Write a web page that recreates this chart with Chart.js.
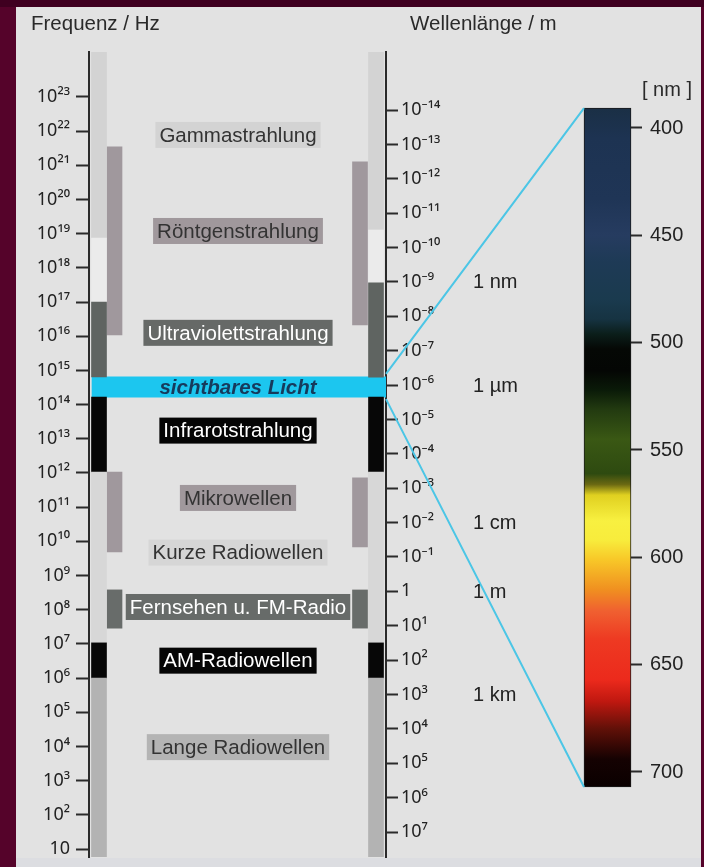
<!DOCTYPE html>
<html>
<head>
<meta charset="utf-8">
<script src="https://cdn.jsdelivr.net/npm/chart.js@4/dist/chart.umd.min.js"></script>
<style>
  html, body { margin: 0; padding: 0; background: #55032a; }
  canvas { display: block; }
</style>
</head>
<body>
<canvas id="c" width="704" height="867"></canvas>
<script>
// ================= DATA =================
// Left axis: frequency exponents (log10 Hz) and their tick labels
const freqExp = [1,2,3,4,5,6,7,8,9,10,11,12,13,14,15,16,17,18,19,20,21,22,23];
const freqTickLabels = ['10','10²','10³','10⁴','10⁵','10⁶','10⁷','10⁸','10⁹','10¹⁰','10¹¹','10¹²','10¹³','10¹⁴','10¹⁵','10¹⁶','10¹⁷','10¹⁸','10¹⁹','10²⁰','10²¹','10²²','10²³'];
// Right axis: wavelength exponents (log10 m) and tick labels
const waveExp = [-14,-13,-12,-11,-10,-9,-8,-7,-6,-5,-4,-3,-2,-1,0,1,2,3,4,5,6,7];
const waveTickLabels = ['10⁻¹⁴','10⁻¹³','10⁻¹²','10⁻¹¹','10⁻¹⁰','10⁻⁹','10⁻⁸','10⁻⁷','10⁻⁶','10⁻⁵','10⁻⁴','10⁻³','10⁻²','10⁻¹','1','10¹','10²','10³','10⁴','10⁵','10⁶','10⁷'];
// Spectrum axis (nm)
const nmTicks = [400,450,500,550,600,650,700];

// Region names and the frequency (log10 Hz) at which their label sits
const regionNames = ['Gammastrahlung','Röntgenstrahlung','Ultraviolettstrahlung','sichtbares Licht','Infrarotstrahlung','Mikrowellen','Kurze Radiowellen','Fernsehen u. FM-Radio','AM-Radiowellen','Lange Radiowellen'];
const regionLabelFreq = [21.89, 19.08, 16.10, 14.52, 13.24, 11.27, 9.67, 8.08, 6.51, 3.98];

// Frequency bands, outer column (log10 Hz)
const freqOuterKind = ['gamma','gap','uv','ir','radio','am','long'];
const freqOuterLo   = [18.87, 17.00, 14.81, 12.03,  7.03, 6.00, 0.77];
const freqOuterHi   = [24.32, 18.87, 17.00, 14.22, 12.03, 7.03, 6.00];
// Frequency bands, inner column (log10 Hz)
const freqInnerKind = ['xray','micro','tv'];
const freqInnerLo   = [16.04,  9.69, 7.46];
const freqInnerHi   = [21.54, 12.03, 8.58];
// Visible light band (log10 Hz)
const visibleFreq = [14.22, 14.81];

// Wavelength bands, outer column (log10 m)
const waveOuterKind = ['gamma','gap','uv','ir','radio','am','long'];
const waveOuterLo   = [-15.69, -10.51, -8.97, -5.65, -3.47, 1.50, 2.52];
const waveOuterHi   = [-10.51,  -8.97, -6.23, -3.47,  1.50, 2.52, 7.73];
// Wavelength bands, inner column (log10 m)
const waveInnerKind = ['xray','micro','tv'];
const waveInnerLo   = [-12.49, -3.30, -0.04];
const waveInnerHi   = [ -7.75, -1.29,  1.07];

// Wavelength unit markers
const unitLabels  = ['1 nm','1 µm','1 cm','1 m','1 km'];
const unitWaveExp = [-9, -6, -2, 0, 3];

// Visible spectrum (nm) and its colour stops
const spectrumRange = [390.7, 707];
const spectrumStopNm    = [390, 405, 433, 450, 462, 480, 489, 496, 503, 513, 522, 531, 545, 561, 566, 571, 583, 592, 601, 615, 625, 638, 657, 667, 680, 694, 707];
const spectrumStopColor = ['#1a2f45','#1d3352','#1f3556','#263c60','#1e3a56','#1a3a4e','#163342','#0b1e1a','#050805','#040604','#0a1a08','#223a10','#3a5814','#2e4a10','#6a6812','#e0d020','#f8f040','#f8ec3c','#f8c828','#f09020','#f06030','#ee3a22','#ec2a1c','#c01810','#601008','#150202','#0a0000'];

// ================= LAYOUT / STYLE =================
const L = {
  W: 704, H: 867,
  panel: { x: 16, y: 7, w: 685, h: 860 },
  area: { left: 89, right: 386, top: 52, bottom: 857 },
  col: { fOuter: 99, fInner: 114.5, wInner: 360, wOuter: 376, spectrum: 607.5, visible: 239 },
  colW: 15, spectrumW: 47, visibleW: 294,
  labelX: 238, unitX: 473, boxPadX: 4, boxH: 26,
  yRange: { fMin: 0.766, fMax: 24.316, wMin: -15.687, wMax: 7.727, nMin: 364.6, nMax: 739.6 }
};
const FONT = '"Liberation Sans", Arial, Helvetica, sans-serif';
const TICK_FONT = '"Noto Sans", "DejaVu Sans", sans-serif';
const KIND_COLOR = {
  gamma: '#d3d3d3', gap: '#ebebeb', uv: '#5f6461', ir: '#070707', radio: '#d7d7d7',
  am: '#070707', long: '#b3b3b3', xray: '#a0989d', micro: '#a0989d', tv: '#686c6a'
};
const LABEL_STYLE = [
  { bg: '#d3d3d3', fg: '#333' },
  { bg: '#a0989c', fg: '#333' },
  { bg: '#666967', fg: '#fff' },
  { bg: null,      fg: '#163a5c', bold: true, italic: true },
  { bg: '#050505', fg: '#fff' },
  { bg: '#a0989c', fg: '#333' },
  { bg: '#d6d6d6', fg: '#333' },
  { bg: '#676b69', fg: '#fff' },
  { bg: '#050505', fg: '#fff' },
  { bg: '#b4b4b4', fg: '#333' }
];
const AXIS_COLOR = '#2a2a2a';
const CYAN = '#1cc6ef';
const LINE_CYAN = '#4cc6e6';

Chart.defaults.font.family = FONT;
Chart.defaults.color = '#222';

function bandDataset(x, lo, hi, kinds, axis) {
  return {
    yAxisID: axis,
    data: lo.map((v, i) => ({ x: x, y: [v, hi[i]] })),
    backgroundColor: kinds.map(k => KIND_COLOR[k]),
    barThickness: L.colW,
    grouped: false,
    borderWidth: 0
  };
}

function setTicks(values) {
  return (scale) => { scale.ticks = values.map(v => ({ value: v })); };
}
function fixWidth(w) {
  return (scale) => { scale.width = w; scale.paddingTop = 0; scale.paddingBottom = 0; };
}

const decor = {
  id: 'decor',
  beforeDraw(chart) {
    const c = chart.ctx;
    c.save();
    c.fillStyle = '#55032a';
    c.fillRect(0, 0, L.W, L.H);
    c.fillStyle = '#3f0020';
    c.fillRect(0, 0, L.W, L.panel.y);
    c.fillStyle = '#e2e2e2';
    c.fillRect(L.panel.x, L.panel.y, L.panel.w, L.panel.h);
    c.fillStyle = '#dcdde1';
    c.fillRect(L.panel.x, 858, L.panel.w, L.H - 858);
    c.restore();
  },
  afterDatasetsDraw(chart) {
    const c = chart.ctx;
    const yF = chart.scales.yF, yW = chart.scales.yW, yN = chart.scales.yNm, x = chart.scales.x;
    c.save();
    // connection lines from visible band to spectrum bar
    const ax = chart.chartArea.right;
    const sx = x.getPixelForValue(L.col.spectrum) - L.spectrumW / 2;
    c.strokeStyle = LINE_CYAN;
    c.lineWidth = 2;
    c.beginPath();
    c.moveTo(ax, yF.getPixelForValue(visibleFreq[1]) - 3);
    c.lineTo(sx, yN.getPixelForValue(spectrumRange[0]));
    c.moveTo(ax, yF.getPixelForValue(visibleFreq[0]) + 2);
    c.lineTo(sx, yN.getPixelForValue(spectrumRange[1]));
    c.stroke();

    // region labels
    c.textBaseline = 'middle';
    c.textAlign = 'center';
    regionNames.forEach((name, i) => {
      const st = LABEL_STYLE[i];
      c.font = (st.italic ? 'italic ' : '') + (st.bold ? 'bold ' : '') + '20.5px ' + FONT;
      const y = yF.getPixelForValue(regionLabelFreq[i]);
      const w = c.measureText(name).width;
      if (st.bg) {
        c.fillStyle = st.bg;
        c.fillRect(L.labelX - w / 2 - L.boxPadX, y - L.boxH / 2, w + 2 * L.boxPadX, L.boxH);
      }
      c.fillStyle = st.fg;
      c.fillText(name, L.labelX, y + 1);
    });

    // unit labels on wavelength side
    c.textAlign = 'left';
    c.font = '20px ' + FONT;
    c.fillStyle = '#222';
    unitLabels.forEach((t, i) => {
      c.fillText(t, L.unitX, yW.getPixelForValue(unitWaveExp[i]) + 1);
    });

    // titles
    c.font = '20.5px ' + FONT;
    c.fillStyle = '#2a2a2a';
    c.fillText('Frequenz / Hz', 31, 24);
    c.fillText('Wellenlänge / m', 410, 24);
    c.font = '20px ' + FONT;
    c.fillText('[ nm ]', 642, 90);
    c.restore();
  }
};

const tickFont = { size: 18, family: TICK_FONT };

new Chart(document.getElementById('c'), {
  type: 'bar',
  data: {
    datasets: [
      bandDataset(L.col.fOuter, freqOuterLo, freqOuterHi, freqOuterKind, 'yF'),
      bandDataset(L.col.fInner, freqInnerLo, freqInnerHi, freqInnerKind, 'yF'),
      bandDataset(L.col.wInner, waveInnerLo, waveInnerHi, waveInnerKind, 'yW'),
      bandDataset(L.col.wOuter, waveOuterLo, waveOuterHi, waveOuterKind, 'yW'),
      {
        yAxisID: 'yF',
        data: [{ x: L.col.visible, y: visibleFreq }],
        backgroundColor: CYAN,
        barThickness: L.visibleW,
        grouped: false,
        borderWidth: 0
      },
      {
        yAxisID: 'yNm',
        data: [{ x: L.col.spectrum, y: spectrumRange }],
        barThickness: L.spectrumW,
        grouped: false,
        clip: false,
        borderWidth: 1,
        borderColor: '#1a1a1a',
        borderSkipped: false,
        backgroundColor: (ctx) => {
          const chart = ctx.chart;
          const s = chart.scales.yNm;
          if (!chart.chartArea || !s) return '#000';
          const y0 = s.getPixelForValue(spectrumRange[0]);
          const y1 = s.getPixelForValue(spectrumRange[1]);
          const g = chart.ctx.createLinearGradient(0, y0, 0, y1);
          spectrumStopNm.forEach((nm, i) => {
            let t = (nm - spectrumRange[0]) / (spectrumRange[1] - spectrumRange[0]);
            t = Math.min(1, Math.max(0, t));
            g.addColorStop(t, spectrumStopColor[i]);
          });
          return g;
        }
      }
    ]
  },
  options: {
    responsive: false,
    animation: false,
    events: [],
    devicePixelRatio: 1,
    layout: { padding: { top: L.area.top, bottom: L.H - L.area.bottom, left: 0, right: 0 } },
    plugins: { legend: { display: false }, tooltip: { enabled: false }, title: { display: false } },
    scales: {
      x: { type: 'linear', display: false, offset: false, min: L.area.left, max: L.area.right },
      yF: {
        type: 'linear', position: 'left',
        min: L.yRange.fMin, max: L.yRange.fMax,
        afterBuildTicks: setTicks(freqExp),
        afterFit: fixWidth(L.area.left),
        ticks: {
          autoSkip: false, padding: 6, font: tickFont, color: '#222',
          callback: (v) => { const i = freqExp.indexOf(v); return i >= 0 ? freqTickLabels[i] : ''; }
        },
        grid: { display: true, drawOnChartArea: false, drawTicks: true, tickLength: 13, tickWidth: 2, tickColor: AXIS_COLOR },
        border: { display: true, color: AXIS_COLOR, width: 2 }
      },
      yW: {
        type: 'linear', position: 'right', weight: 1, reverse: true,
        min: L.yRange.wMin, max: L.yRange.wMax,
        afterBuildTicks: setTicks(waveExp),
        afterFit: fixWidth(631 - L.area.right),
        ticks: {
          autoSkip: false, padding: 3, font: tickFont, color: '#222',
          callback: (v) => { const i = waveExp.indexOf(v); return i >= 0 ? waveTickLabels[i] : ''; }
        },
        grid: { display: true, drawOnChartArea: false, drawTicks: true, tickLength: 12, tickWidth: 2, tickColor: AXIS_COLOR },
        border: { display: true, color: AXIS_COLOR, width: 2 }
      },
      yNm: {
        type: 'linear', position: 'right', weight: 2, reverse: true,
        min: L.yRange.nMin, max: L.yRange.nMax,
        afterBuildTicks: setTicks(nmTicks),
        afterFit: fixWidth(L.W - 631),
        ticks: { autoSkip: false, padding: 8, font: { size: 20 }, color: '#222' },
        grid: { display: true, drawOnChartArea: false, drawTicks: true, tickLength: 11, tickWidth: 2, tickColor: AXIS_COLOR },
        border: { display: false }
      }
    }
  },
  plugins: [decor]
});
</script>
</body>
</html>
